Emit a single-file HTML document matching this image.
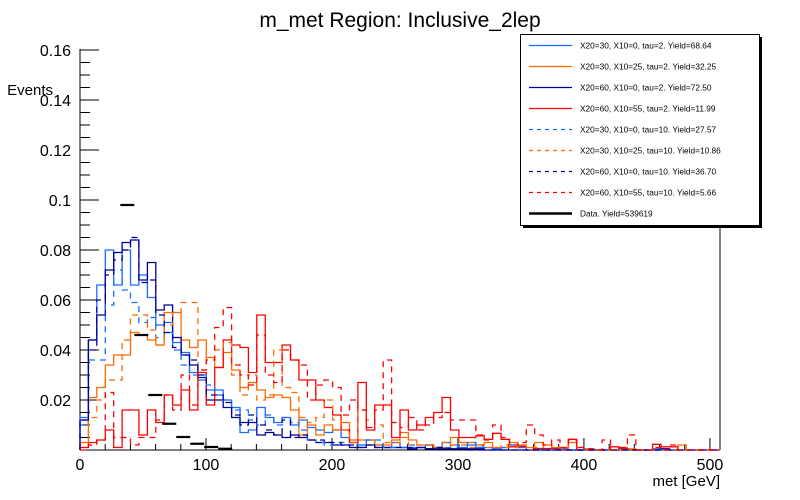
<!DOCTYPE html>
<html><head><meta charset="utf-8">
<style>
body{margin:0;background:#fff;width:800px;height:500px;overflow:hidden;font-family:"Liberation Sans",sans-serif;}
svg{display:block}
</style></head>
<body>
<svg id="chart" width="800" height="500" xmlns="http://www.w3.org/2000/svg">
<text x="400" y="27" text-anchor="middle" font-size="21" font-family="Liberation Sans, sans-serif">m_met Region: Inclusive_2lep</text>
<text x="53" y="95" text-anchor="end" font-size="15" font-family="Liberation Sans, sans-serif">Events</text>
<text x="720" y="486" text-anchor="end" font-size="15" font-family="Liberation Sans, sans-serif">met [GeV]</text>
<g id="axes"></g>
<g id="series"></g>
<g id="legend"></g>
</svg>
<script>
const xMin = 0, xMax = 508, yMin = 0, yMax = 0.16;
const nBins = 76;
const binWidth = 508 / 76;
const xTicks = [0, 100, 200, 300, 400, 500];
const yTicks = [0.02, 0.04, 0.06, 0.08, 0.1, 0.12, 0.14, 0.16];
const yTickLabels = ["0.02","0.04","0.06","0.08","0.1","0.12","0.14","0.16"];
const seriesNames = ["X20=30, X10=0, tau=2. Yield=68.64","X20=30, X10=25, tau=2. Yield=32.25","X20=60, X10=0, tau=2. Yield=72.50","X20=60, X10=55, tau=2. Yield=11.99","X20=30, X10=0, tau=10. Yield=27.57","X20=30, X10=25, tau=10. Yield=10.86","X20=60, X10=0, tau=10. Yield=36.70","X20=60, X10=55, tau=10. Yield=5.66"];
const s1 = [0.013,0.044,0.066,0.080,0.066,0.080,0.066,0.070,0.061,0.050,0.051,0.043,0.039,0.031,0.028,0.024,0.024,0.020,0.017,0.007,0.008,0.017,0.013,0.011,0.013,0.010,0.012,0.009,0.008,0.007,0.008,0.005,0.003,0.002,0.004,0.002,0.001,0.003,0.001,0.001,0.001,0.002,0.001,0.003,0.002,0.001,0.002,0.001,0.001,0.0005,0.001,0.002,0.001,0,0.0005,0,0,0.0005,0,0,0,0,0,0,0,0,0,0,0.0005,0,0,0,0,0,0,0];
const s2 = [0.003,0.021,0.025,0.034,0.038,0.038,0.047,0.046,0.044,0.042,0.055,0.055,0.044,0.041,0.044,0.037,0.033,0.039,0.032,0.025,0.027,0.024,0.021,0.022,0.021,0.016,0.006,0.010,0.006,0.010,0.008,0.011,0.004,0.004,0.004,0.002,0.002,0.004,0.007,0.004,0.002,0.002,0.001,0.001,0.005,0.003,0.003,0.002,0.003,0.001,0.001,0.003,0.002,0.001,0.003,0.002,0.001,0.001,0.003,0,0.0005,0,0,0,0.001,0.0005,0,0,0,0,0,0.002,0,0,0,0];
const s3 = [0.012,0.044,0.054,0.072,0.079,0.083,0.084,0.068,0.075,0.056,0.058,0.045,0.038,0.034,0.029,0.020,0.020,0.017,0.013,0.011,0.011,0.006,0.007,0.006,0.005,0.006,0.005,0.004,0.003,0.003,0.002,0.002,0.001,0.001,0.002,0.001,0.001,0.001,0.001,0.0005,0.001,0.0005,0.0005,0.0005,0.0005,0.0005,0.0005,0.0005,0,0,0,0,0,0,0,0,0,0,0,0,0,0,0,0,0,0,0,0,0,0.0005,0,0,0,0,0,0];
const s4 = [0.001,0.003,0.004,0.008,0.001,0.016,0.016,0.006,0.016,0.011,0.022,0.018,0.024,0.016,0.031,0.018,0.033,0.044,0.042,0.041,0.031,0.054,0.035,0.035,0.042,0.036,0.028,0.028,0.020,0.017,0.014,0.008,0.003,0.027,0.008,0.018,0.018,0.005,0.016,0.008,0.010,0.013,0.015,0.021,0.008,0.005,0.005,0.0057,0.0043,0.0067,0.0043,0.0013,0.0015,0,0.0006,0.0006,0.0006,0,0.0043,0,0,0,0,0.0013,0.0006,0,0,0,0.0023,0.0013,0.0013,0,0,0,0,0];
const s5 = [0.010,0.036,0.036,0.058,0.072,0.064,0.059,0.051,0.053,0.045,0.047,0.040,0.034,0.030,0.030,0.026,0.022,0.020,0.016,0.016,0.012,0.010,0.014,0.010,0.013,0.011,0.008,0.004,0.003,0.002,0.003,0.003,0.003,0.002,0.004,0.004,0.001,0.001,0.001,0.002,0.001,0.002,0.001,0.001,0.001,0.002,0.003,0.001,0.001,0.0005,0.001,0.002,0.001,0,0,0,0,0,0,0,0,0,0,0,0,0,0,0,0,0,0,0,0,0,0,0];
const s6 = [0.003,0.013,0.020,0.028,0.028,0.044,0.054,0.054,0.048,0.042,0.050,0.055,0.059,0.059,0.032,0.037,0.040,0.043,0.030,0.022,0.030,0.020,0.022,0.040,0.025,0.023,0.013,0.011,0.013,0.020,0.012,0.008,0.003,0.016,0.012,0.010,0.003,0.003,0.005,0.002,0.002,0.002,0.001,0.003,0.002,0.002,0.001,0.002,0.001,0.001,0.002,0.001,0.002,0.001,0.001,0.002,0.001,0,0.003,0.001,0,0,0,0,0,0,0,0,0,0,0,0,0,0,0,0];
const s7 = [0.012,0.040,0.060,0.070,0.076,0.080,0.085,0.067,0.068,0.054,0.047,0.041,0.038,0.036,0.030,0.022,0.022,0.019,0.014,0.010,0.014,0.010,0.008,0.006,0.012,0.005,0.006,0.004,0.004,0.003,0.003,0.002,0.002,0.001,0.002,0.001,0.001,0.001,0.001,0.001,0.001,0.0005,0.001,0.0005,0.0005,0.0005,0,0,0,0,0,0,0,0,0,0,0,0,0,0,0,0,0,0,0,0,0,0,0,0,0,0,0,0,0,0];
const s8 = [0,0.002,0.004,0.023,0.005,0.005,0.002,0.005,0.005,0.012,0.022,0.016,0.030,0.018,0.032,0.036,0.049,0.057,0.034,0.030,0.026,0.046,0.030,0.027,0.040,0.036,0.034,0.020,0.026,0.028,0.025,0.014,0.020,0.016,0.009,0.016,0.036,0.011,0.009,0.013,0.008,0.010,0.013,0.015,0.012,0.012,0.012,0.006,0.004,0.010,0.005,0.002,0.003,0.010,0.006,0.002,0.004,0.001,0.004,0.001,0.0005,0,0.004,0,0.001,0.006,0,0,0.001,0,0.002,0,0,0,0,0];
const dataStart = 32, dataBinWidth = 11.1;
const dataValues = [0.098,0.046,0.022,0.0105,0.0052,0.0025,0.0012,0.0005];

const colors = ["#1a6cff","#ff6a00","#000099","#ff0000","#1a6cff","#ff6a00","#000099","#ff0000"];
const dashed = [false,false,false,false,true,true,true,true];
const allSeries = [s1,s2,s3,s4,s5,s6,s7,s8];

const X = v => 80 + (v - xMin) / (xMax - xMin) * 640;
const Y = v => 450 - (v - yMin) / (yMax - yMin) * 400;
const NS = "http://www.w3.org/2000/svg";
function mk(tag, attrs, parent){const e=document.createElementNS(NS,tag);for(const k in attrs)e.setAttribute(k,attrs[k]);parent.appendChild(e);return e;}

const axes = document.getElementById('axes');
const xAxis = mk('line',{x1:80,y1:450,x2:720,y2:450,stroke:'#000','stroke-width':1},axes);


const yAxis = mk('line',{x1:80,y1:450,x2:80,y2:49,stroke:'#000','stroke-width':1},axes);


const rFrame = mk('line',{x1:720,y1:450,x2:720,y2:49,stroke:'#000','stroke-width':1},axes);


for(let v=0; v<=yMax+1e-9; v+=0.005){
  const major = Math.abs(v/0.02 - Math.round(v/0.02))<1e-6;
  const t = mk('line',{x1:80,y1:Y(v),x2:80+(major?19:10),y2:Y(v),stroke:'#000','stroke-width':1},axes);
  
  
}
yTicks.forEach((v,i)=>{
  const t = mk('text',{x:71,y:Y(v)+6,'text-anchor':'end','font-size':16},axes);
  t.textContent = yTickLabels[i];
  
  
});
for(let v=0; v<=xMax; v+=20){
  const major = v%100===0;
  const t = mk('line',{x1:X(v),y1:450,x2:X(v),y2:450-(major?12:6),stroke:'#000','stroke-width':1},axes);
  
  
}
xTicks.forEach(v=>{
  const t = mk('text',{x:X(v),y:470,'text-anchor':'middle','font-size':16},axes);
  t.textContent = String(v);
  
  
});

const sg = document.getElementById('series');
allSeries.forEach((arr,si)=>{
  let d = 'M'+X(0)+','+Y(0);
  arr.forEach((v,i)=>{ d += ' V'+Y(v).toFixed(1)+' H'+X((i+1)*binWidth).toFixed(1); });
  const p = mk('path',{d:d,fill:'none',stroke:colors[si],'stroke-width':1.3},sg);
  if(dashed[si]) p.setAttribute('stroke-dasharray','6,5');
  
  
});
dataValues.forEach((v,i)=>{
  const x0 = X(dataStart + i*dataBinWidth), x1 = X(dataStart + (i+1)*dataBinWidth);
  const s = mk('line',{x1:x0,y1:Y(v),x2:x1,y2:Y(v),stroke:'#000','stroke-width':2.2},sg);
  
  
});

const lg = document.getElementById('legend');
const sh = mk('rect',{x:523,y:37,width:239,height:191,fill:'#000'},lg);


const box = mk('rect',{x:520.5,y:34.5,width:239,height:191,fill:'#fff',stroke:'#000','stroke-width':1},lg);


const labels = seriesNames.concat(["Data. Yield=539619"]);
labels.forEach((lab,i)=>{
  const yy = 45.5 + i*21;
  const ln = mk('line',{x1:529,y1:yy,x2:572,y2:yy,stroke:i<8?colors[i]:'#000','stroke-width':i<8?1.2:2.5},lg);
  if(i<8 && dashed[i]) ln.setAttribute('stroke-dasharray','4,4');
  
  
  const t = mk('text',{x:580,y:yy+3,'font-size':8.3},lg);
  t.textContent = lab;
  
  
});
</script>
</body></html>
